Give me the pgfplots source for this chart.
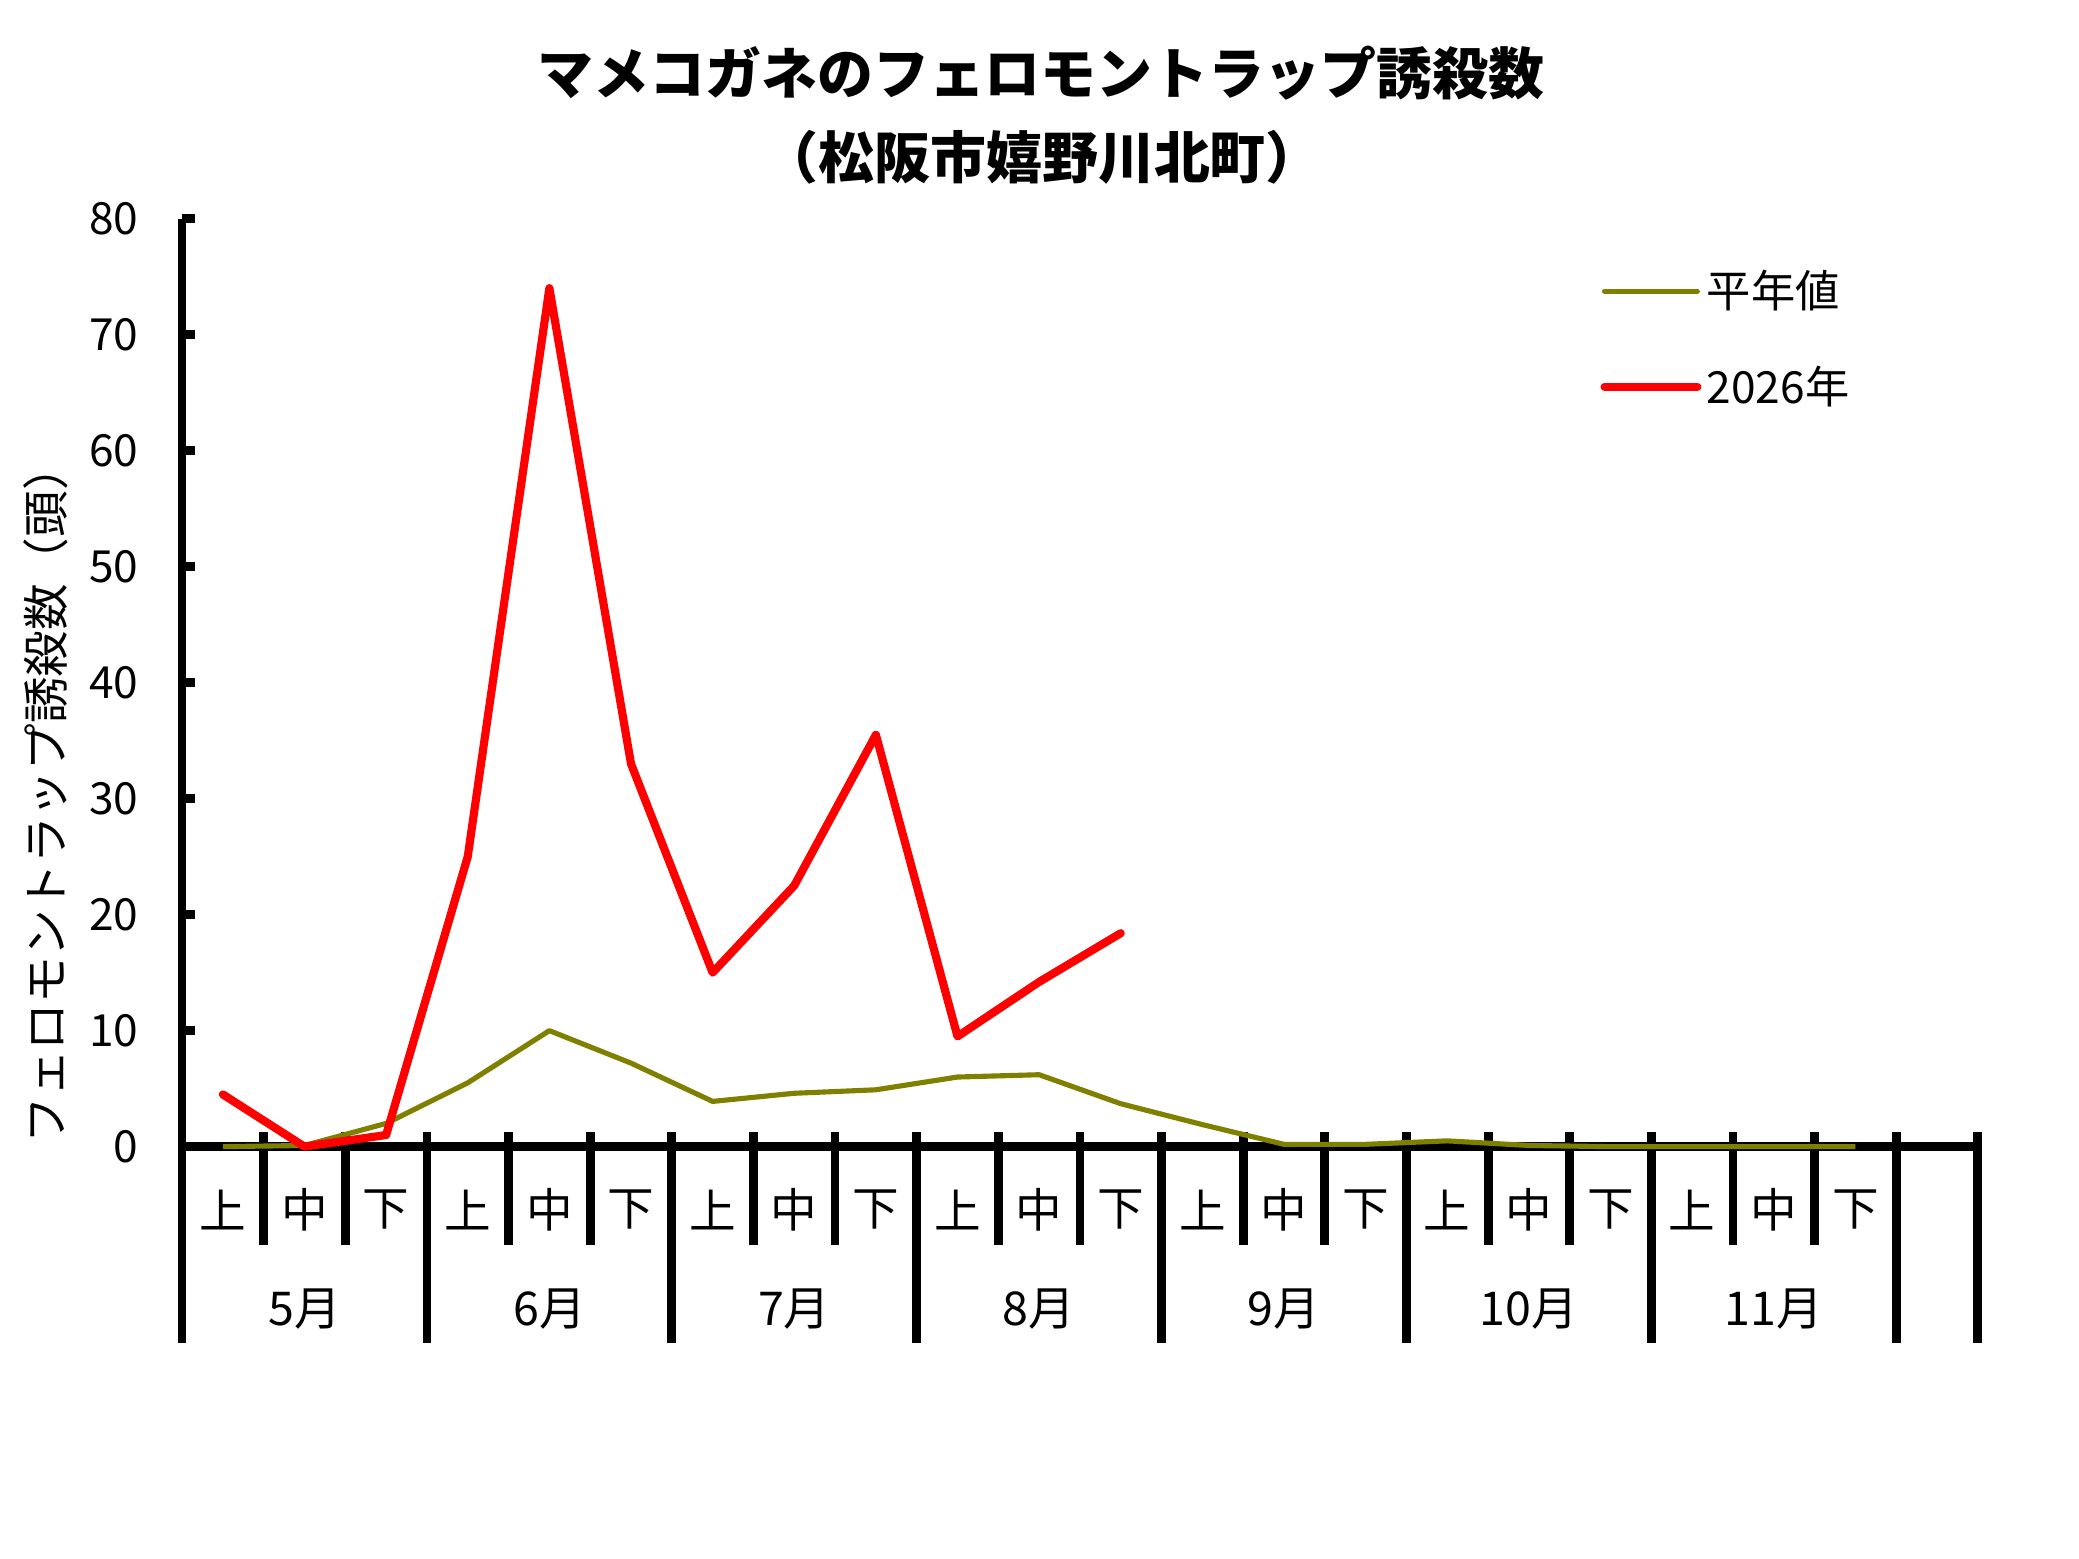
\documentclass[border=0pt]{standalone}
\usepackage{fontspec}
\setmainfont{Noto Sans CJK JP}
\usepackage{pgfplots}
\pgfplotsset{compat=1.18}
\definecolor{olivec}{RGB}{128,128,0}
\definecolor{redc}{RGB}{255,0,0}
\begin{document}
\begin{tikzpicture}
\path[use as bounding box] (0,0) rectangle (15.68,11.757);
\node[anchor=base, inner sep=0pt, font=\fontsize{12}{14}\selectfont\bfseries] at (7.85,11.047) {マメコガネのフェロモントラップ誘殺数};
\node[anchor=base, inner sep=0pt, font=\fontsize{12}{14}\selectfont\bfseries] at (7.86,10.412) {（松阪市嬉野川北町）};
\node[rotate=90, inner sep=0pt, font=\fontsize{10}{12}\selectfont] at (0.345,5.77) {フェロモントラップ誘殺数（頭）};
\begin{axis}[
  at={(1.373cm,3.109cm)}, anchor=south west,
  scale only axis, width=13.544cm, height=7cm,
  xmin=0, xmax=22, ymin=0, ymax=80,
  axis x line*=bottom, axis y line*=left,
  axis line style={-, line width=1.9pt, black},
  xtick=\empty, ytick={0,10,...,80},
  ytick pos=left, tick align=inside, major tick length=0.1cm,
  tick style={line width=1.9pt, black},
  yticklabel style={font=\fontsize{9.5}{11}\selectfont, inner sep=0pt, xshift=-0.323cm},
  /pgf/number format/assume math mode=true,
  clip=false, no markers,
  legend style={at={(axis description cs:0.78986,0.94538)}, anchor=north west,
    draw=none, fill=none, inner sep=0pt, outer sep=0pt,
    row sep=0.39cm, column sep=0.04cm,
    nodes={inner sep=0pt, font=\fontsize{9.5}{11}\selectfont, text height=0.29cm, text depth=0.04cm, anchor=base west}},
  legend cell align=left,
  legend image code/.code={\draw[#1, line cap=round] (0cm,0.125cm) -- (0.7cm,0.125cm);},
]
\pgfplotsinvokeforeach{1,2,4,5,7,8,10,11,13,14,16,17,19,20}{\draw[line width=1.9pt] (axis cs:#1,1.23) -- (axis cs:#1,-8.48);}
\pgfplotsinvokeforeach{0,3,6,9,12,15,18,21,22}{\draw[line width=1.9pt] (axis cs:#1,1.23) -- (axis cs:#1,-16.94);}
\pgfplotsinvokeforeach{0.5,3.5,6.5,9.5,12.5,15.5,18.5}{\node[font=\fontsize{10}{12}\selectfont] at (axis cs:#1,-5.46) {上};}
\pgfplotsinvokeforeach{1.5,4.5,7.5,10.5,13.5,16.5,19.5}{\node[font=\fontsize{10}{12}\selectfont] at (axis cs:#1,-5.46) {中};}
\pgfplotsinvokeforeach{2.5,5.5,8.5,11.5,14.5,17.5,20.5}{\node[font=\fontsize{10}{12}\selectfont] at (axis cs:#1,-5.46) {下};}
\node[font=\fontsize{10}{12}\selectfont] at (axis cs:1.5,-13.97) {5月};
\node[font=\fontsize{10}{12}\selectfont] at (axis cs:4.5,-13.97) {6月};
\node[font=\fontsize{10}{12}\selectfont] at (axis cs:7.5,-13.97) {7月};
\node[font=\fontsize{10}{12}\selectfont] at (axis cs:10.5,-13.97) {8月};
\node[font=\fontsize{10}{12}\selectfont] at (axis cs:13.5,-13.97) {9月};
\node[font=\fontsize{10}{12}\selectfont] at (axis cs:16.5,-13.97) {10月};
\node[font=\fontsize{10}{12}\selectfont] at (axis cs:19.5,-13.97) {11月};
\addplot[color=olivec, line width=1.1pt, line join=round] coordinates {
  (0.5,0) (1.5,0.1) (2.5,2.0) (3.5,5.5) (4.5,10.0) (5.5,7.2) (6.5,3.9)
  (7.5,4.6) (8.5,4.9) (9.5,6.0) (10.5,6.2) (11.5,3.7) (12.5,1.9) (13.5,0.2)
  (14.5,0.2) (15.5,0.5) (16.5,0.1) (17.5,0) (18.5,0) (19.5,0) (20.5,0)};
\addlegendentry{平年値}
\addplot[color=redc, line width=1.75pt, line join=round, line cap=round] coordinates {
  (0.5,4.5) (1.5,0) (2.5,1.0) (3.5,25.0) (4.5,74.0) (5.5,33.0) (6.5,15.0)
  (7.5,22.5) (8.5,35.5) (9.5,9.5) (10.5,14.2) (11.5,18.4)};
\addlegendentry{2026年}
\end{axis}
\end{tikzpicture}
\end{document}
